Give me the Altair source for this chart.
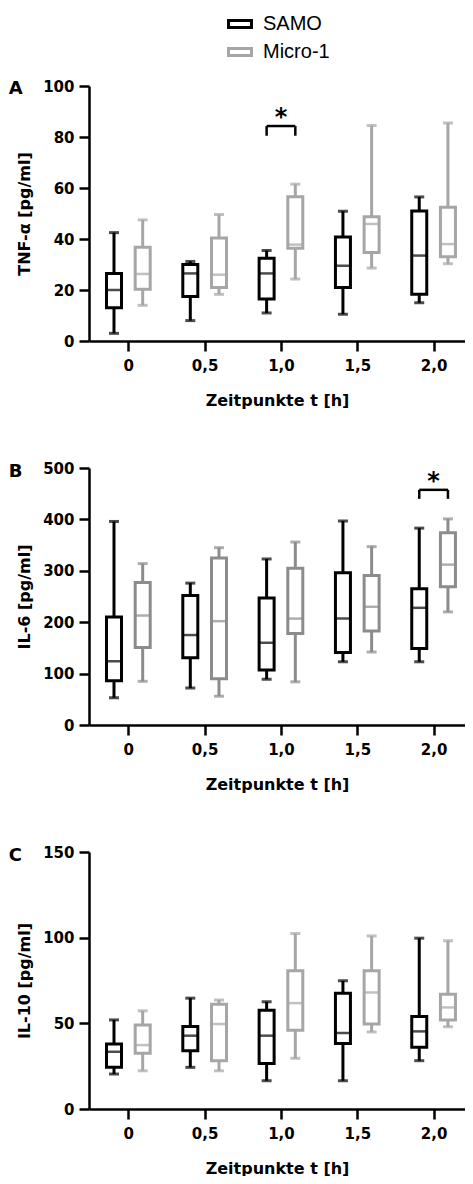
import altair as alt
import pandas as pd

series = ["SAMO", "Micro-1"]
times = [0.0, 0.5, 1.0, 1.5, 2.0]

# each entry: [min, q1, median, q3, max] per time point
tnf_samo = [[3, 13, 20, 26.5, 42.5], [8, 17.5, 26.5, 30, 31.2], [11, 16.5, 26.5, 32.5, 35.5],
            [10.5, 21, 29.5, 40.8, 50.9], [15, 18.3, 33.5, 51, 56.5]]
tnf_micro = [[14, 20.3, 26.3, 36.8, 47.5], [18.3, 21, 26, 40.4, 49.6], [24.3, 36.4, 37.8, 56.6, 61.5],
             [28.6, 34.7, 45.9, 48.7, 84.5], [30.3, 33, 38, 52.5, 85.5]]
il6_samo = [[53, 86, 124, 210, 396], [72, 131, 175, 252, 276], [89, 107, 160, 247, 323],
            [123, 141, 207, 296, 397], [123, 149, 228, 265, 383]]
il6_micro = [[85, 151, 213, 277, 314], [56, 90, 202, 325, 345], [84, 178, 207, 305, 356],
             [142, 183, 230, 291, 347], [220, 269, 312, 374, 401]]
il10_samo = [[20.4, 24.3, 33.4, 37.9, 52], [24.3, 34, 42.8, 48.2, 64.7], [16.5, 26.6, 42.8, 57.7, 62.6],
             [16.5, 38.3, 44.3, 67.6, 74.8], [28.2, 36, 45.3, 54, 99.7]]
il10_micro = [[22.3, 32.5, 37.3, 49, 57.3], [22.3, 28.2, 49.6, 61.2, 63.6], [29.6, 46, 61.8, 80.7, 102.4],
              [45, 49.6, 68, 80.7, 101], [48, 51.9, 59.3, 67, 98.2]]

# significance brackets: time, bracket top, leg bottom
tnf_sig = {"time": [1.0], "top": [84.3], "bottom": [80.5], "label": ["*"]}
il6_sig = {"time": [2.0], "top": [457.5], "bottom": [440], "label": ["*"]}

y_titles = ["TNF-α [pg/ml]", "IL-6 [pg/ml]", "IL-10 [pg/ml]"]
y_max = [100, 500, 150]
y_ticks = [[0, 20, 40, 60, 80, 100], [0, 100, 200, 300, 400, 500], [0, 50, 100, 150]]
letters = ["A", "B", "C"]
x_title = "Zeitpunkte t [h]"

FONT = "DejaVu Sans"
OFF = 0.094
# hollow rectangle (frame) legend symbol
FRAME = "M-1.3,-0.5H1.3V0.5H-1.3Z M-1.0,-0.2V0.2H1.0V-0.2Z"


def make_df(samo, micro):
    rows = []
    for name, data in zip(series, [samo, micro]):
        for t, s in zip(times, data):
            rows.append({"time": t, "series": name, "min": s[0], "q1": s[1],
                         "median": s[2], "q3": s[3], "max": s[4]})
    return pd.DataFrame(rows)


def panel(df, sig, ymax, yticks, ytitle, letter, grey, show_legend, height, title_dy):
    xs = alt.Scale(domain=[-0.225, 2.173], nice=False, zero=False)
    xa = alt.Axis(values=times, title=x_title,
                  labelExpr="datum.value == 0 ? '0' : replace(format(datum.value, '.1f'), '.', ',')")
    ys = alt.Scale(domain=[0, ymax], nice=False)
    ya = alt.Axis(values=yticks, title=ytitle)
    X = lambda f: alt.X(f, scale=xs, axis=xa, title=x_title)
    Y = lambda f: alt.Y(f, scale=ys, axis=ya, title=ytitle)
    cscale = alt.Scale(domain=series, range=["#000000", grey])
    if show_legend:
        leg = alt.Legend(orient="none", legendX=141, legendY=-72, title=None,
                         symbolType=FRAME, symbolSize=400, symbolStrokeWidth=0,
                         labelFontSize=20, labelFont="Liberation Sans", labelColor="black",
                         labelOffset=13, rowPadding=8)
    else:
        leg = None
    stroke_box = alt.Stroke("series:N", scale=cscale, legend=leg)
    color = alt.Color("series:N", scale=cscale, legend=None)

    base = alt.Chart(df).transform_calculate(
        xpos=f"datum.time + (datum.series == 'SAMO' ? {-OFF} : {OFF})"
    )
    box = base.mark_bar(filled=False, fill="transparent", size=15, strokeWidth=3).encode(
        x=X("xpos:Q"), y=Y("q1:Q"), y2="q3:Q", stroke=stroke_box)
    wlo = base.mark_rule(strokeWidth=3).encode(x=X("xpos:Q"), y=Y("min:Q"), y2="q1:Q", color=color)
    whi = base.mark_rule(strokeWidth=3).encode(x=X("xpos:Q"), y=Y("q3:Q"), y2="max:Q", color=color)
    clo = base.mark_tick(orient="horizontal", size=10, thickness=3).encode(
        x=X("xpos:Q"), y=Y("min:Q"), color=color)
    chi = base.mark_tick(orient="horizontal", size=10, thickness=3).encode(
        x=X("xpos:Q"), y=Y("max:Q"), color=color)
    med = base.mark_tick(orient="horizontal", size=15, thickness=2.5).encode(
        x=X("xpos:Q"), y=Y("median:Q"), color=color)
    layers = [box, wlo, whi, clo, chi, med]

    if sig is not None:
        sb = alt.Chart(pd.DataFrame(sig)).transform_calculate(
            xs=f"datum.time - {OFF}", xg=f"datum.time + {OFF}")
        top = sb.mark_rule(color="black", strokeWidth=2.5).encode(
            x=X("xs:Q"), x2="xg:Q", y=Y("top:Q"))
        l1 = sb.mark_rule(color="black", strokeWidth=2.5).encode(x=X("xs:Q"), y=Y("top:Q"), y2="bottom:Q")
        l2 = sb.mark_rule(color="black", strokeWidth=2.5).encode(x=X("xg:Q"), y=Y("top:Q"), y2="bottom:Q")
        star = sb.mark_text(font=FONT, fontWeight="bold", fontSize=24, color="black",
                            baseline="alphabetic", dy=-1).encode(
            x=X("time:Q"), y=Y("top:Q"), text="label:N")
        layers += [top, l1, l2, star]

    return alt.layer(*layers).properties(
        width=376, height=height,
        title=alt.TitleParams(letter, anchor="start", frame="bounds", font=FONT, fontWeight="bold",
                              fontSize=18, color="black", dx=-8, dy=title_dy, offset=0),
    )


pA = panel(make_df(tnf_samo, tnf_micro), tnf_sig, y_max[0], y_ticks[0], y_titles[0], letters[0],
           "#a6a6a6", True, 255, 84)
pB = panel(make_df(il6_samo, il6_micro), il6_sig, y_max[1], y_ticks[1], y_titles[1], letters[1],
           "#8c8c8c", False, 257, 20)
pC = panel(make_df(il10_samo, il10_micro), None, y_max[2], y_ticks[2], y_titles[2], letters[2],
           "#a6a6a6", False, 257, 20)

chart = alt.vconcat(pA, pB, pC, spacing=53).resolve_scale(
    color="independent", stroke="independent"
).properties(
    padding={"left": 0, "top": 6, "right": 0, "bottom": 0}, background="white"
).configure_view(stroke=None).configure_axis(
    grid=False, domainColor="black", domainWidth=2.5, tickColor="black", tickWidth=2.5, tickSize=10,
    labelFont=FONT, labelFontWeight="bold", labelFontSize=15, labelColor="black", labelPadding=5,
    titleFont=FONT, titleFontWeight="bold", titleFontSize=16, titleColor="black", titlePadding=10,
).configure_axisX(labelPadding=7, titlePadding=19)

chart.save("out.html", embed_options={"renderer": "svg", "actions": False})
